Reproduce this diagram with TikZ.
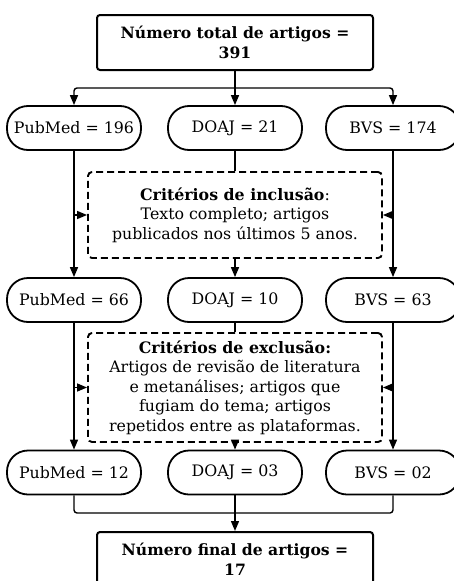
\documentclass[tikz,border=0pt]{standalone}
\usepackage{fontspec}
\setmainfont{DejaVu Serif}
\usetikzlibrary{positioning,arrows.meta}

\begin{document}
\begin{tikzpicture}[
  x=1pt, y=-1pt,
  box/.style={draw, rounded corners=3pt, line width=2pt, align=center, minimum width=276pt, minimum height=55pt, font=\fontsize{15.6}{20}\selectfont\bfseries},
  pill/.style={draw, rounded corners=21pt, line width=1.8pt, minimum width=134pt, minimum height=44pt, font=\fontsize{15.8}{18}\selectfont},
  crit/.style={draw, dash pattern=on 7pt off 4pt, rounded corners=4pt, line width=1.9pt, align=center, minimum width=294pt, font=\fontsize{15.8}{19.5}\selectfont},
  arr/.style={-{Triangle[width=8pt,length=10pt]}, line width=1.4pt},
  ln/.style={line width=1.4pt}
]
\useasboundingbox (0,0) rectangle (454,581);
\node[box] (total) at (235,42.5) {Número total de artigos =\\391};
\node[pill] (pub1) at (74,128) {PubMed = 196};
\node[pill] (doaj1) at (235,128) {DOAJ = 21};
\node[pill] (bvs1) at (393,128) {BVS = 174};
\node[crit, minimum height=86pt] (incl) at (235,215) {\textbf{Critérios de inclusão}:\\Texto completo; artigos\\publicados nos últimos 5 anos.};
\node[pill] (pub2) at (74,300) {PubMed = 66};
\node[pill] (doaj2) at (235,300) {DOAJ = 10};
\node[pill] (bvs2) at (393,300) {BVS = 63};
\node[crit, minimum height=109pt] (excl) at (235,387.5) {\textbf{Critérios de exclusão:}\\Artigos de revisão de literatura\\e metanálises; artigos que\\fugiam do tema; artigos\\repetidos entre as plataformas.};
\node[pill] (pub3) at (74,472.5) {PubMed = 12};
\node[pill] (doaj3) at (235,472.5) {DOAJ = 03};
\node[pill] (bvs3) at (393,472.5) {BVS = 02};
\node[box] (final) at (235,559.5) {Número final de artigos =\\17};
\coordinate (split) at (235,88);
\coordinate (join) at (235,513);
% split into the three databases
\draw[ln] (total) -- (split);
\draw[arr, rounded corners=3pt] (split) -| (pub1);
\draw[arr] (split) -- (doaj1);
\draw[arr, rounded corners=3pt] (split) -| (bvs1);
% inclusion
\draw[arr] (pub1) -- (pub2);
\draw[arr] (bvs1) -- (bvs2);
\draw[arr] (pub1.south |- incl.west) -- (incl.west);
\draw[arr] (bvs1.south |- incl.east) -- (incl.east);
\draw[ln] (doaj1) -- (incl);
\draw[arr] (incl) -- (doaj2);
% exclusion
\draw[arr] (pub2) -- (pub3);
\draw[arr] (bvs2) -- (bvs3);
\draw[arr] (pub2.south |- excl.west) -- (excl.west);
\draw[arr] (bvs2.south |- excl.east) -- (excl.east);
\draw[ln] (doaj2) -- (excl);
\draw[arr] (excl) -- (doaj3);
% merge
\draw[ln, rounded corners=3pt] (pub3) |- (join);
\draw[ln, rounded corners=3pt] (bvs3) |- (join);
\draw[arr] (doaj3) -- (final);
\end{tikzpicture}
\end{document}
